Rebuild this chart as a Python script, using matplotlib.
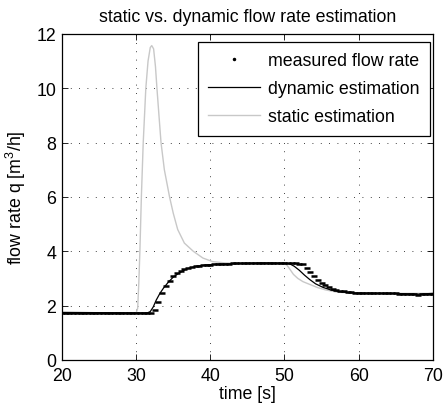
import numpy as np
import matplotlib
matplotlib.use('Agg')
import matplotlib.pyplot as plt
from matplotlib import rc
from matplotlib.lines import Line2D

rc('font', **{'family': ['Liberation Sans', 'DejaVu Sans'], 'size': 12.8})
rc('mathtext', **{'default': 'regular'})
rc('xtick', **{'direction': 'in', 'major.size': 4, 'major.width': 0.6, 'top': True, 'major.pad': 5})
rc('ytick', **{'direction': 'in', 'major.size': 4, 'major.width': 0.6, 'right': True, 'major.pad': 4})
rc('axes', **{'linewidth': 0.9})

# measured flow rate, sampled every 0.5 s
t_meas = np.arange(20.0, 70.01, 0.5)
q_meas = [1.74, 1.74, 1.73, 1.74, 1.73, 1.73, 1.72, 1.73, 1.73, 1.72, 1.72, 1.73,
          1.72, 1.72, 1.72, 1.73, 1.72, 1.72, 1.71, 1.72, 1.72, 1.72, 1.72, 1.72,
          1.73, 1.85, 2.15, 2.48, 2.72, 2.92, 3.08, 3.20, 3.28, 3.34, 3.38, 3.42,
          3.45, 3.47, 3.49, 3.50,
          3.51, 3.52, 3.53, 3.53, 3.54, 3.54, 3.55, 3.55, 3.56, 3.56, 3.57, 3.57,
          3.57, 3.56, 3.57, 3.56, 3.56, 3.55, 3.56, 3.55, 3.55, 3.55, 3.55, 3.55, 3.54,
          3.52, 3.38, 3.22, 3.08, 2.95, 2.84, 2.75, 2.68, 2.62, 2.58, 2.55, 2.52,
          2.50, 2.49, 2.48,
          2.47, 2.47, 2.46, 2.46, 2.45, 2.45, 2.45, 2.46, 2.46, 2.45, 2.45, 2.44,
          2.44, 2.43, 2.42, 2.41, 2.40, 2.41, 2.43, 2.44, 2.44]

# dynamic estimation
t_dyn = [20, 25, 30, 31.5, 31.9, 32.3, 32.7, 33.2, 33.7, 34.3, 35, 35.8, 36.8, 38,
         39.5, 41.5, 44, 47, 50, 50.7, 51.3, 52, 52.7, 53.4, 54.2, 55.2, 56.2, 57.2,
         58.5, 60, 63, 66, 68, 70]
q_dyn = [1.75, 1.74, 1.73, 1.73, 1.78, 1.95, 2.20, 2.45, 2.65, 2.85, 3.05, 3.20, 3.35,
         3.44, 3.50, 3.53, 3.55, 3.57, 3.56, 3.54, 3.45, 3.30, 3.12, 2.96, 2.80, 2.67,
         2.58, 2.52, 2.48, 2.46, 2.45, 2.44, 2.42, 2.45]

# static estimation
t_stat = [20, 25, 30, 30.2, 30.35, 30.5, 30.7, 30.95, 31.3, 31.6, 31.9, 32.1, 32.35,
          32.6, 32.8, 33.1, 33.35, 33.8, 34.5, 35.0, 35.6, 36.5, 37.7, 39, 40.3, 42,
          45, 48, 50, 50.3, 50.7, 51.2, 51.8, 52.5, 53.4, 54.5, 55.5, 57, 59, 62, 66, 70]
q_stat = [1.72, 1.72, 1.73, 1.90, 2.80, 4.00, 6.00, 8.00, 10.0, 11.0, 11.5, 11.57,
          11.45, 10.8, 10.0, 8.9, 8.0, 7.0, 6.0, 5.4, 4.8, 4.3, 4.0, 3.75, 3.62, 3.57,
          3.55, 3.57, 3.53, 3.50, 3.35, 3.15, 3.00, 2.88, 2.78, 2.66, 2.58, 2.50, 2.46,
          2.45, 2.45, 2.45]

fig = plt.figure(figsize=(4.43, 4.06), dpi=100)
ax = fig.add_axes([0.140, 0.111, 0.837, 0.803])

# measured samples drawn as short flat dashes (quantised readings)
ax.plot(t_meas, q_meas, '_', color='k', ms=4.2, mew=1.8, zorder=4)
ax.plot(t_dyn, q_dyn, color='k', lw=0.9, zorder=3)
ax.plot(t_stat, q_stat, color='#c8c8c8', lw=1.0, zorder=2)

ax.set_xlim(20, 70)
ax.set_ylim(0, 12)
ax.set_xticks(np.arange(20, 71, 10))
ax.set_yticks(np.arange(0, 13, 2))
ax.grid(True, color='k', linestyle=(0, (1, 9)), lw=0.6)

ax.set_xlabel('time [s]', labelpad=1)
ax.set_ylabel('flow rate q [m$^3$/h]', labelpad=6)
ax.set_title('static vs. dynamic flow rate estimation', fontsize=12.8, pad=9)

handles = [Line2D([], [], ls='none', marker='.', ms=3, color='k'),
           Line2D([], [], color='k', lw=0.9),
           Line2D([], [], color='#c8c8c8', lw=1.0)]
labels = ['measured flow rate', 'dynamic estimation', 'static estimation']
leg = ax.legend(handles, labels, loc='upper right', bbox_to_anchor=(0.992, 0.975),
                borderaxespad=0, fancybox=False, framealpha=1, edgecolor='k',
                handlelength=2.9, handletextpad=0.45, labelspacing=0.62, borderpad=0.58)
leg.get_frame().set_linewidth(0.9)

fig.savefig('out.png')
